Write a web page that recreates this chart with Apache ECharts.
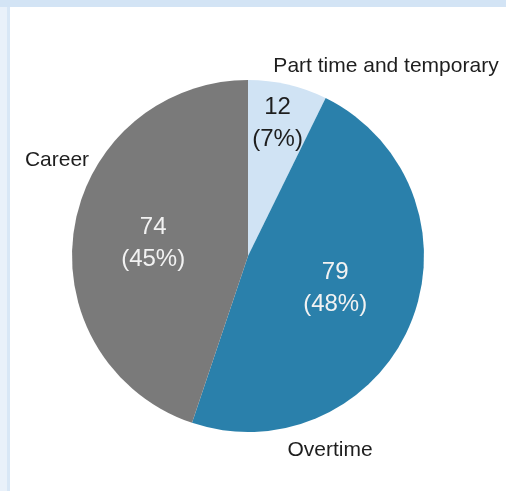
<!DOCTYPE html>
<html>
<head>
<meta charset="utf-8">
<script src="https://cdn.jsdelivr.net/npm/echarts@6/dist/echarts.min.js"></script>
<style>
  html, body { margin: 0; padding: 0; background: #ffffff; }
  #chart { width: 506px; height: 491px; }
</style>
</head>
<body>
<div id="chart"></div>
<script>
// Workforce cost breakdown
const categories = ['Part time and temporary', 'Overtime', 'Career'];
const values = [12, 79, 74];

const sliceColors = ['#d0e3f4', '#2a80ab', '#7a7a7a'];
const valueLabelColors = ['#1e1e1e', '#f2f2f2', '#f2f2f2'];
// where each category name sits on the canvas
const nameLabelPos = [[386, 66], [330, 450], [57, 160]];
// nudges for the in-slice value labels
const valueLabelShift = [[9, -44], [3, -2], [-5, 2]];

const FONT = '"Liberation Sans", Arial, Helvetica, sans-serif';
const CENTER = [248, 256];
const RADIUS = 176;

const pieData = categories.map((name, i) => ({
  name: name,
  value: values[i],
  itemStyle: { color: sliceColors[i] },
  label: { color: valueLabelColors[i] }
}));

const chart = echarts.init(document.getElementById('chart'), null, { renderer: 'canvas' });

chart.setOption({
  animation: false,
  backgroundColor: '#ffffff',
  graphic: [
    { type: 'rect', shape: { x: 0, y: 0, width: 506, height: 7 }, style: { fill: '#d3e4f5' }, silent: true },
    { type: 'rect', shape: { x: 0, y: 7, width: 7, height: 484 }, style: { fill: '#e9f1fa' }, silent: true },
    { type: 'rect', shape: { x: 7, y: 7, width: 3, height: 484 }, style: { fill: '#d8e7f6' }, silent: true }
  ],
  series: [
    {
      type: 'pie',
      center: CENTER,
      radius: RADIUS,
      startAngle: 90,
      clockwise: true,
      percentPrecision: 0,
      avoidLabelOverlap: false,
      silent: true,
      data: pieData,
      itemStyle: { borderWidth: 0 },
      label: {
        show: true,
        position: 'inside',
        formatter: '{c}\n({d}%)',
        fontFamily: FONT,
        fontSize: 24,
        lineHeight: 32,
        align: 'center'
      },
      labelLine: { show: false },
      labelLayout: function (params) {
        const s = valueLabelShift[params.dataIndex];
        return { dx: s[0], dy: s[1], hideOverlap: false };
      }
    },
    {
      type: 'pie',
      center: CENTER,
      radius: RADIUS,
      startAngle: 90,
      clockwise: true,
      avoidLabelOverlap: false,
      silent: true,
      z: 3,
      data: categories.map((name, i) => ({ name: name, value: values[i] })),
      itemStyle: { color: 'rgba(0,0,0,0)', borderWidth: 0 },
      label: {
        show: true,
        position: 'inside',
        formatter: '{b}',
        fontFamily: FONT,
        fontSize: 21,
        color: '#1e1e1e',
        overflow: 'none'
      },
      labelLine: { show: false },
      labelLayout: function (params) {
        const p = nameLabelPos[params.dataIndex];
        return { x: p[0], y: p[1], align: 'center', verticalAlign: 'middle', hideOverlap: false };
      }
    }
  ]
});
</script>
</body>
</html>
